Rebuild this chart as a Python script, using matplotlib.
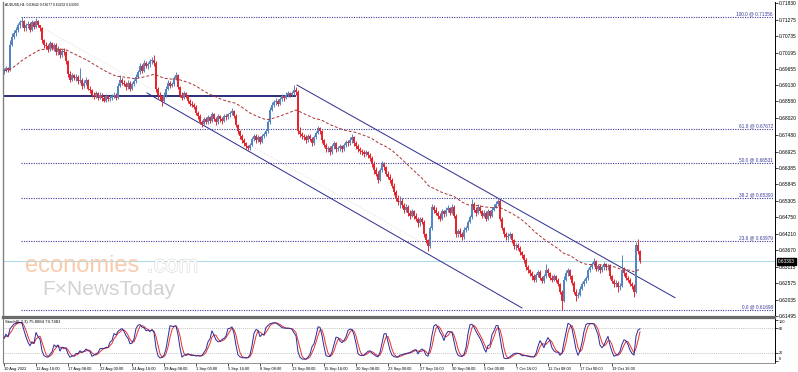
import numpy as np
import pandas as pd
import matplotlib
matplotlib.use('Agg')
import matplotlib.pyplot as plt
import matplotlib.transforms as mtransforms
import matplotlib.patheffects as pe

plt.rcParams['font.family'] = ['Liberation Sans', 'DejaVu Sans']

# ---------------- data (AUDUSD H4, 10 Aug 2022 - 24 Oct 2022) ----------------
header_text = 'AUDUSD,H4  0.63642 0.63677 0.63232 0.63303'
stoch_text = 'Stoch(5,3,3) 75.8084 79.7481'

first_open = 0.6955
closes = [
    0.6960, 0.6968, 0.6962, 0.7045, 0.7070, 0.7085,
    0.7095, 0.7110, 0.7120, 0.7125, 0.7100, 0.7110,
    0.7115, 0.7095, 0.7120, 0.7105, 0.7125, 0.7110,
    0.7100, 0.7060, 0.7045, 0.7040, 0.7030, 0.7050,
    0.7035, 0.7045, 0.7020, 0.7030, 0.7010, 0.7025,
    0.7020, 0.6990, 0.6950, 0.6930, 0.6945, 0.6935,
    0.6940, 0.6925, 0.6930, 0.6910, 0.6920, 0.6930,
    0.6900, 0.6895, 0.6880, 0.6875, 0.6885, 0.6870,
    0.6880, 0.6870, 0.6860, 0.6875, 0.6865, 0.6870,
    0.6875, 0.6880, 0.6870, 0.6910, 0.6930, 0.6920,
    0.6915, 0.6905, 0.6920, 0.6900, 0.6915, 0.6925,
    0.6940, 0.6955, 0.6975, 0.6960, 0.6985, 0.6975,
    0.6980, 0.6990, 0.6995, 0.6985, 0.6900, 0.6880,
    0.6875, 0.6860, 0.6880, 0.6900, 0.6920, 0.6910,
    0.6915, 0.6935, 0.6945, 0.6905, 0.6880, 0.6870,
    0.6885, 0.6875, 0.6860, 0.6850, 0.6845, 0.6840,
    0.6820, 0.6810, 0.6790, 0.6785, 0.6800, 0.6790,
    0.6805, 0.6795, 0.6815, 0.6800, 0.6790, 0.6810,
    0.6800, 0.6795, 0.6810, 0.6805, 0.6815, 0.6820,
    0.6825, 0.6810, 0.6780, 0.6760, 0.6745, 0.6730,
    0.6720, 0.6710, 0.6705, 0.6715, 0.6735, 0.6745,
    0.6730, 0.6740, 0.6725, 0.6745, 0.6750, 0.6760,
    0.6790, 0.6830, 0.6845, 0.6855, 0.6860, 0.6850,
    0.6865, 0.6875, 0.6870, 0.6880, 0.6885, 0.6880,
    0.6885, 0.6895, 0.6890, 0.6760, 0.6750, 0.6745,
    0.6740, 0.6730, 0.6745, 0.6735, 0.6720, 0.6740,
    0.6755, 0.6770, 0.6760, 0.6730, 0.6715, 0.6700,
    0.6705, 0.6690, 0.6710, 0.6720, 0.6700, 0.6705,
    0.6710, 0.6700, 0.6715, 0.6725, 0.6720, 0.6730,
    0.6740, 0.6720, 0.6710, 0.6700, 0.6695, 0.6690,
    0.6685, 0.6690, 0.6680, 0.6670, 0.6650, 0.6630,
    0.6620, 0.6600, 0.6630, 0.6650, 0.6640, 0.6620,
    0.6610, 0.6600, 0.6580, 0.6560, 0.6540, 0.6525,
    0.6530, 0.6515, 0.6500, 0.6510, 0.6490, 0.6480,
    0.6495, 0.6480, 0.6470, 0.6455, 0.6470, 0.6460,
    0.6420, 0.6400, 0.6380, 0.6440, 0.6510, 0.6500,
    0.6490, 0.6480, 0.6470, 0.6495, 0.6485, 0.6500,
    0.6505, 0.6490, 0.6510, 0.6480, 0.6420, 0.6430,
    0.6420, 0.6410, 0.6435, 0.6440, 0.6460, 0.6475,
    0.6520, 0.6500, 0.6490, 0.6510, 0.6495, 0.6480,
    0.6490, 0.6470, 0.6495, 0.6480, 0.6500, 0.6510,
    0.6520, 0.6530, 0.6470, 0.6440, 0.6420, 0.6410,
    0.6415, 0.6420, 0.6400, 0.6380, 0.6385, 0.6375,
    0.6360, 0.6350, 0.6335, 0.6310, 0.6300, 0.6290,
    0.6280, 0.6270, 0.6285, 0.6295, 0.6275, 0.6265,
    0.6280, 0.6300, 0.6290, 0.6275, 0.6270, 0.6280,
    0.6270, 0.6255, 0.6230, 0.6200, 0.6270, 0.6290,
    0.6300, 0.6280, 0.6260, 0.6230, 0.6215, 0.6220,
    0.6240, 0.6255, 0.6265, 0.6275, 0.6300, 0.6310,
    0.6320, 0.6330, 0.6305, 0.6315, 0.6300, 0.6310,
    0.6320, 0.6310, 0.6315, 0.6280, 0.6265, 0.6255,
    0.6260, 0.6245, 0.6250, 0.6300, 0.6290, 0.6275,
    0.6270, 0.6255, 0.6250, 0.6230, 0.6385, 0.6364,
    0.63303,
]
highs = [
    0.6968, 0.6975, 0.6972, 0.7060, 0.7085, 0.7095,
    0.7105, 0.7118, 0.7128, 0.7137, 0.7128, 0.7118,
    0.7125, 0.7120, 0.7128, 0.7125, 0.7132, 0.7128,
    0.7112, 0.7105, 0.7065, 0.7055, 0.7048, 0.7058,
    0.7055, 0.7052, 0.7050, 0.7040, 0.7035, 0.7032,
    0.7035, 0.7025, 0.6995, 0.6958, 0.6952, 0.6950,
    0.6948, 0.6945, 0.6968, 0.6935, 0.6928, 0.6938,
    0.6932, 0.6908, 0.6900, 0.6888, 0.6892, 0.6890,
    0.6888, 0.6885, 0.6875, 0.6882, 0.6880, 0.6878,
    0.6882, 0.6888, 0.6885, 0.6918, 0.6945, 0.6935,
    0.6928, 0.6922, 0.6928, 0.6925, 0.6922, 0.6932,
    0.6948, 0.6962, 0.6985, 0.6982, 0.6995, 0.6992,
    0.6988, 0.6998, 0.7005, 0.7010, 0.6990, 0.6905,
    0.6890, 0.6880, 0.6888, 0.6908, 0.6928, 0.6925,
    0.6922, 0.6942, 0.6955, 0.6950, 0.6910, 0.6888,
    0.6892, 0.6890, 0.6880, 0.6865, 0.6858, 0.6852,
    0.6845, 0.6825, 0.6815, 0.6798, 0.6808, 0.6805,
    0.6812, 0.6810, 0.6822, 0.6820, 0.6805, 0.6815,
    0.6812, 0.6806, 0.6816, 0.6815, 0.6820, 0.6826,
    0.6835, 0.6830, 0.6815, 0.6785, 0.6765, 0.6750,
    0.6738, 0.6725, 0.6715, 0.6722, 0.6742, 0.6752,
    0.6750, 0.6748, 0.6745, 0.6752, 0.6758, 0.6768,
    0.6798, 0.6838, 0.6855, 0.6862, 0.6870, 0.6865,
    0.6872, 0.6882, 0.6880, 0.6888, 0.6892, 0.6890,
    0.6892, 0.6912, 0.6905, 0.6895, 0.6772, 0.6758,
    0.6752, 0.6748, 0.6752, 0.6750, 0.6740, 0.6746,
    0.6762, 0.6778, 0.6775, 0.6765, 0.6735, 0.6720,
    0.6712, 0.6710, 0.6716, 0.6728, 0.6725, 0.6712,
    0.6718, 0.6715, 0.6722, 0.6732, 0.6732, 0.6740,
    0.6752, 0.6745, 0.6728, 0.6718, 0.6708, 0.6702,
    0.6698, 0.6698, 0.6695, 0.6688, 0.6678, 0.6660,
    0.6640, 0.6628, 0.6638, 0.6660, 0.6658, 0.6645,
    0.6628, 0.6618, 0.6605, 0.6588, 0.6565, 0.6548,
    0.6545, 0.6538, 0.6522, 0.6518, 0.6515, 0.6498,
    0.6502, 0.6500, 0.6488, 0.6478, 0.6478, 0.6475,
    0.6465, 0.6425, 0.6405, 0.6448, 0.6518, 0.6515,
    0.6508, 0.6495, 0.6488, 0.6502, 0.6500, 0.6508,
    0.6515, 0.6510, 0.6518, 0.6515, 0.6485, 0.6438,
    0.6440, 0.6428, 0.6442, 0.6448, 0.6468, 0.6482,
    0.6535, 0.6525, 0.6508, 0.6518, 0.6515, 0.6500,
    0.6498, 0.6495, 0.6502, 0.6500, 0.6508, 0.6518,
    0.6528, 0.6540, 0.6535, 0.6478, 0.6445, 0.6428,
    0.6422, 0.6428, 0.6425, 0.6405, 0.6392, 0.6390,
    0.6380, 0.6365, 0.6355, 0.6340, 0.6318, 0.6305,
    0.6298, 0.6288, 0.6292, 0.6302, 0.6300, 0.6280,
    0.6288, 0.6320, 0.6308, 0.6295, 0.6285, 0.6288,
    0.6285, 0.6275, 0.6260, 0.6235, 0.6280, 0.6300,
    0.6308, 0.6305, 0.6285, 0.6265, 0.6238, 0.6228,
    0.6248, 0.6262, 0.6272, 0.6282, 0.6308, 0.6318,
    0.6328, 0.6340, 0.6335, 0.6322, 0.6320, 0.6318,
    0.6328, 0.6325, 0.6322, 0.6320, 0.6285, 0.6272,
    0.6268, 0.6265, 0.6258, 0.6350, 0.6310, 0.6295,
    0.6282, 0.6275, 0.6262, 0.6255, 0.6395, 0.6404,
    0.63677,
]
lows = [
    0.6950, 0.6955, 0.6955, 0.6958, 0.7040, 0.7065,
    0.7075, 0.7088, 0.7100, 0.7105, 0.7090, 0.7092,
    0.7100, 0.7088, 0.7090, 0.7098, 0.7100, 0.7105,
    0.7090, 0.7050, 0.7035, 0.7030, 0.7022, 0.7025,
    0.7028, 0.7025, 0.7012, 0.7010, 0.7002, 0.7005,
    0.7012, 0.6982, 0.6940, 0.6922, 0.6925, 0.6928,
    0.6925, 0.6915, 0.6920, 0.6900, 0.6902, 0.6912,
    0.6895, 0.6885, 0.6872, 0.6865, 0.6868, 0.6862,
    0.6865, 0.6860, 0.6855, 0.6855, 0.6858, 0.6860,
    0.6862, 0.6868, 0.6862, 0.6865, 0.6905, 0.6912,
    0.6908, 0.6895, 0.6900, 0.6892, 0.6895, 0.6910,
    0.6920, 0.6935, 0.6950, 0.6952, 0.6955, 0.6968,
    0.6965, 0.6972, 0.6982, 0.6975, 0.6890, 0.6870,
    0.6862, 0.6842, 0.6852, 0.6872, 0.6895, 0.6902,
    0.6905, 0.6908, 0.6928, 0.6898, 0.6872, 0.6862,
    0.6865, 0.6868, 0.6852, 0.6842, 0.6838, 0.6832,
    0.6812, 0.6800, 0.6782, 0.6772, 0.6778, 0.6782,
    0.6785, 0.6788, 0.6790, 0.6792, 0.6780, 0.6785,
    0.6790, 0.6785, 0.6790, 0.6798, 0.6800, 0.6808,
    0.6812, 0.6802, 0.6772, 0.6752, 0.6735, 0.6722,
    0.6712, 0.6702, 0.6698, 0.6698, 0.6710, 0.6728,
    0.6722, 0.6725, 0.6718, 0.6720, 0.6738, 0.6745,
    0.6755, 0.6785, 0.6825, 0.6838, 0.6845, 0.6842,
    0.6845, 0.6858, 0.6860, 0.6865, 0.6872, 0.6872,
    0.6875, 0.6880, 0.6880, 0.6752, 0.6740, 0.6735,
    0.6732, 0.6722, 0.6725, 0.6728, 0.6712, 0.6715,
    0.6735, 0.6750, 0.6752, 0.6722, 0.6708, 0.6692,
    0.6692, 0.6682, 0.6685, 0.6702, 0.6692, 0.6695,
    0.6695, 0.6692, 0.6695, 0.6708, 0.6712, 0.6715,
    0.6722, 0.6712, 0.6702, 0.6692, 0.6685, 0.6682,
    0.6676, 0.6678, 0.6672, 0.6662, 0.6640, 0.6620,
    0.6612, 0.6590, 0.6595, 0.6625, 0.6632, 0.6612,
    0.6602, 0.6590, 0.6572, 0.6550, 0.6530, 0.6515,
    0.6505, 0.6505, 0.6490, 0.6492, 0.6480, 0.6470,
    0.6475, 0.6470, 0.6462, 0.6445, 0.6448, 0.6452,
    0.6412, 0.6390, 0.6364, 0.6375, 0.6435, 0.6490,
    0.6482, 0.6470, 0.6462, 0.6465, 0.6478, 0.6480,
    0.6492, 0.6482, 0.6485, 0.6472, 0.6410, 0.6412,
    0.6410, 0.6402, 0.6405, 0.6428, 0.6435, 0.6455,
    0.6470, 0.6492, 0.6480, 0.6485, 0.6488, 0.6472,
    0.6475, 0.6462, 0.6465, 0.6472, 0.6475, 0.6495,
    0.6505, 0.6512, 0.6462, 0.6432, 0.6412, 0.6402,
    0.6402, 0.6408, 0.6392, 0.6372, 0.6368, 0.6366,
    0.6352, 0.6340, 0.6325, 0.6300, 0.6290, 0.6282,
    0.6270, 0.6262, 0.6262, 0.6278, 0.6268, 0.6258,
    0.6260, 0.6275, 0.6282, 0.6268, 0.6262, 0.6265,
    0.6262, 0.6248, 0.6222, 0.6170, 0.6195, 0.6265,
    0.6282, 0.6272, 0.6252, 0.6222, 0.6200, 0.6208,
    0.6215, 0.6235, 0.6248, 0.6258, 0.6270, 0.6295,
    0.6305, 0.6315, 0.6298, 0.6298, 0.6292, 0.6295,
    0.6302, 0.6302, 0.6300, 0.6272, 0.6258, 0.6245,
    0.6245, 0.6228, 0.6235, 0.6245, 0.6282, 0.6268,
    0.6262, 0.6248, 0.6240, 0.6212, 0.6225, 0.6355,
    0.63232,
]

price_ticks = [0.71830, 0.71275, 0.70735, 0.70195, 0.69655, 0.69130, 0.68580,
               0.68020, 0.67480, 0.66925, 0.66385, 0.65845, 0.65305, 0.64750,
               0.64210, 0.63670, 0.63115, 0.62575, 0.62035, 0.61495]
date_labels = ['10 Aug 2022', '12 Aug 16:00', '17 Aug 08:00', '22 Aug 00:00',
               '24 Aug 16:00', '29 Aug 08:00', '1 Sep 00:00', '5 Sep 16:00',
               '8 Sep 08:00', '13 Sep 00:00', '15 Sep 16:00', '20 Sep 08:00',
               '23 Sep 00:00', '27 Sep 16:00', '30 Sep 08:00', '5 Oct 00:00',
               '7 Oct 16:00', '12 Oct 08:00', '17 Oct 00:00', '19 Oct 16:00']
bars_per_label = 16

fib_names = ['100.0', '61.8', '50.0', '38.2', '23.6', '0.0']
fib_prices = [0.71356, 0.67672, 0.66531, 0.65390, 0.63979, 0.61698]
fib_start_bar = 8.5

support_price = 0.6876
support_end_bar = 145.5
channel_upper = ([146.5, 335.5], [0.6912, 0.6210])
channel_lower = ([71.5, 259.0], [0.6886, 0.6176])
channel_faint = ([19.5, 209.5], [0.7100, 0.6391])
last_price = 0.63303

stoch_levels = [20, 80]

# ---------------- derived series ----------------
df = pd.DataFrame({'c': closes, 'h': highs, 'l': lows})
df['o'] = [first_open] + closes[:-1]
df.loc[df.index[-1], 'o'] = 0.63642
df['h'] = df[['h', 'o', 'c']].max(axis=1)
df['l'] = df[['l', 'o', 'c']].min(axis=1)
n = len(df)
x = np.arange(n)

ema = df['c'].ewm(span=50, adjust=False).mean()
ll = df['l'].rolling(5, min_periods=1).min()
hh = df['h'].rolling(5, min_periods=1).max()
k_line = 100 * (df['c'] - ll).rolling(3, min_periods=1).sum() / (hh - ll).rolling(3, min_periods=1).sum()
d_line = k_line.rolling(3, min_periods=1).mean()

# ---------------- figure ----------------
W, H = 798, 372
fig = plt.figure(figsize=(W / 100, H / 100), dpi=100)
fig.patch.set_facecolor('white')

ax = fig.add_axes([3 / W, 1 - 317 / H, 772 / W, 315 / H])
ax_st = fig.add_axes([3 / W, 1 - 363 / H, 772 / W, 45 / H])

ppx = (0.71830 - 0.61495) / 313.0
ax.set_ylim(0.61495 - ppx, 0.71830 + ppx)
ax.set_xlim(-0.5, 385.5)
ax_st.set_xlim(-0.5, 385.5)
ax_st.set_ylim(-4.1, 104.1)

bull = '#5285c2'
bear = '#e5262c'
up = df['c'] >= df['o']
cols = np.where(up, bull, bear)

# watermark first (behind)
fig.text(25 / W, 1 - 272 / H, 'economies', fontsize=17, color='#f8cbac',
         va='baseline', zorder=0)
fig.text(147 / W, 1 - 272 / H, '.com', fontsize=17, color='white',
         va='baseline', zorder=0,
         path_effects=[pe.withStroke(linewidth=0.8, foreground='#d6d6d6')])
fig.text(42 / W, 1 - 295 / H, 'F\u00d7NewsToday', fontsize=15, color='#d2d2d2',
         va='baseline', zorder=0)
ax.patch.set_alpha(0)

# fib levels
fib_color = '#3a3a9c'
for name, p in zip(fib_names, fib_prices):
    ax.plot([fib_start_bar, 384.5], [p, p], color=fib_color, lw=0.8,
            linestyle=(0, (1, 1.2)), zorder=1)
    ax.text(384.5, p + ppx * 0.8, f'{name} @ {p:.5f}', ha='right', va='bottom',
            fontsize=3.4, color=fib_color, zorder=5)

# current price line
ax.axhline(last_price, color='#a8d8e8', lw=0.7, zorder=1)

# support and channel
ax.plot([-0.5, support_end_bar], [support_price, support_price], color='#1a1a6e', lw=1.3, zorder=2)
ax.plot(channel_upper[0], channel_upper[1], color='#2a2a90', lw=0.7, zorder=2)
ax.plot(channel_lower[0], channel_lower[1], color='#2a2a90', lw=0.7, zorder=2)
ax.plot(channel_faint[0], channel_faint[1], color='#e6d6d6', lw=0.6,
        linestyle=(0, (1, 1.5)), zorder=1)

# candles
ax.vlines(x, df['l'], df['h'], colors=cols, lw=0.7, zorder=3)
body = (df['c'] - df['o']).values
body = np.where(np.abs(body) < ppx * 0.6, ppx * 0.6, body)
ax.bar(x, body, bottom=df['o'], width=0.85, color=cols, linewidth=0, zorder=3)

# moving average
ax.plot(x, ema, color='#a83232', lw=0.7, linestyle=(0, (3, 2)), zorder=4)

# axes styling: main
for side in ['top', 'bottom', 'left', 'right']:
    ax.spines[side].set_visible(False)
ax.spines['right'].set_visible(True)
ax.spines['right'].set_color('black')
ax.spines['right'].set_linewidth(0.7)
ax.spines['left'].set_visible(True)
ax.spines['left'].set_color('#808080')
ax.spines['left'].set_linewidth(1.0)
ax.spines['bottom'].set_visible(True)
ax.spines['bottom'].set_color('#6a6a6a')
ax.spines['bottom'].set_linewidth(1.6)
ax.yaxis.tick_right()
ax.set_yticks(price_ticks)
ax.set_yticklabels([f'{t:.5f}' for t in price_ticks])
ax.tick_params(axis='y', direction='out', length=2, width=0.5, pad=1,
               labelsize=3.5, colors='black')
ax.set_xticks([])

tr = mtransforms.blended_transform_factory(ax.transAxes, ax.transData)
ax.text(1.004, last_price, f'{last_price:.5f}', transform=tr, ha='left', va='center',
        fontsize=3.4, color='white', zorder=10,
        bbox=dict(boxstyle='square,pad=0.2', fc='black', ec='black'))

fig.text(5 / W, 1 - 5 / H, header_text, fontsize=2.4, color='black', va='center')

# stochastic panel
ax_st.plot(x, k_line, color='#2a2a9a', lw=0.7, zorder=3)
ax_st.plot(x, d_line, color='#e83030', lw=0.7, zorder=2)
for lv in stoch_levels:
    ax_st.axhline(lv, color='#b0b0b0', lw=0.5, linestyle=(0, (1.5, 1.5)), zorder=1)
for side in ['top', 'bottom', 'left', 'right']:
    ax_st.spines[side].set_visible(False)
ax_st.spines['right'].set_visible(True)
ax_st.spines['right'].set_color('black')
ax_st.spines['right'].set_linewidth(0.7)
ax_st.spines['left'].set_visible(True)
ax_st.spines['left'].set_color('#808080')
ax_st.spines['top'].set_visible(True)
ax_st.spines['top'].set_color('#6a6a6a')
ax_st.spines['top'].set_linewidth(1.6)
ax_st.spines['bottom'].set_visible(True)
ax_st.spines['bottom'].set_color('#808080')
ax_st.spines['bottom'].set_linewidth(0.6)
ax_st.yaxis.tick_right()
ax_st.set_yticks([0, 20, 80, 100])
ax_st.set_yticklabels(['0', '20', '80', '100'])
ax_st.tick_params(axis='y', direction='out', length=2, width=0.5, pad=1,
                  labelsize=2.8)
lbls = ax_st.get_yticklabels()
lbls[0].set_va('bottom')
lbls[3].set_va('top')

tick_pos = [i * bars_per_label for i in range(len(date_labels))]
ax_st.set_xticks(tick_pos)
ax_st.set_xticklabels(date_labels, ha='left')
ax_st.tick_params(axis='x', direction='out', length=2, width=0.5, pad=1,
                  labelsize=2.9)
ax_st.text(0.002, 99, stoch_text, fontsize=3.1, color='black', va='top', ha='left',
           transform=mtransforms.blended_transform_factory(ax_st.transAxes, ax_st.transData),
           zorder=6)

fig.savefig('out.png', dpi=100)
